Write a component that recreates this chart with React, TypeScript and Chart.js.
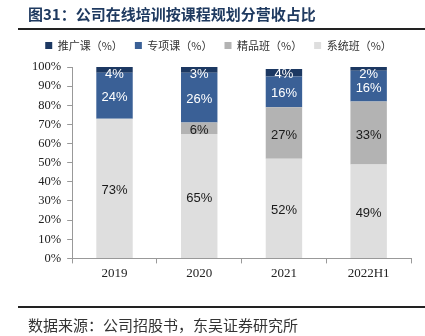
import React, { useEffect, useRef } from "react";
import { Chart, registerables } from "chart.js";

Chart.register(...registerables);

const categories = ["2019", "2020", "2021", "2022H1"];
const seriesNames = ["系统班（%）", "精品班（%）", "专项课（%）", "推广课（%）"];
const xiTongBan = [73, 65, 52, 49];
const jingPinBan = [0, 6, 27, 33];
const zhuanXiangKe = [24, 26, 16, 16];
const tuiGuangKe = [4, 3, 4, 2];
const yTicks = [0, 10, 20, 30, 40, 50, 60, 70, 80, 90, 100];

const titleText = "图31：公司在线培训按课程规划分营收占比";
const sourceText = "数据来源：公司招股书，东吴证券研究所";

const colors = ["#dedede", "#b3b3b3", "#3a6096", "#1c3862"];
const labelColors = ["#1a1a1a", "#1a1a1a", "#ffffff", "#ffffff"];

const legendGapPlugin = {
  id: "legendGap",
  beforeLayout(chart: any) {
    const lg = chart.legend;
    if (lg && !lg._gapPatched) {
      const orig = lg.fit.bind(lg);
      lg.fit = function () {
        orig();
        this.height += 6;
      };
      lg._gapPatched = true;
    }
  },
};

const decorPlugin = {
  id: "decor",
  afterDraw(chart: any) {
    const ctx = chart.ctx;
    ctx.save();
    ctx.fillStyle = "#1f3a60";
    ctx.font = "bold 15px 'Noto Sans CJK SC'";
    ctx.textBaseline = "middle";
    ctx.textAlign = "left";
    ctx.fillText(titleText, 28, 14);
    ctx.strokeStyle = "#222";
    ctx.lineWidth = 2;
    ctx.beginPath();
    ctx.moveTo(18, 29);
    ctx.lineTo(425, 29);
    ctx.stroke();
    ctx.beginPath();
    ctx.moveTo(18, 307);
    ctx.lineTo(425, 307);
    ctx.stroke();
    ctx.fillStyle = "#333";
    ctx.font = "15px 'Noto Sans CJK SC'";
    ctx.fillText(sourceText, 28, 325);
    ctx.restore();
  },
};

const valueLabelPlugin = {
  id: "valueLabels",
  afterDatasetsDraw(chart: any) {
    const ctx = chart.ctx;
    const top = chart.chartArea.top;
    ctx.save();
    ctx.font = "13px 'Liberation Sans', Arial";
    ctx.textAlign = "center";
    ctx.textBaseline = "middle";
    chart.data.datasets.forEach((ds: any, di: number) => {
      const meta = chart.getDatasetMeta(di);
      meta.data.forEach((el: any, i: number) => {
        const v = ds.data[i];
        if (!v) return;
        ctx.fillStyle = labelColors[di];
        let y = (el.y + el.base) / 2 + 2;
        if (y < top + 7) y = top + 7;
        ctx.fillText(v + "%", el.x, y);
      });
    });
    ctx.restore();
  },
};

export default function App() {
  const ref = useRef<HTMLCanvasElement>(null);
  useEffect(() => {
    const seriesData = [xiTongBan, jingPinBan, zhuanXiangKe, tuiGuangKe];
    const chart = new Chart(ref.current!, {
      type: "bar",
      data: {
        labels: categories,
        datasets: seriesData.map((d, i) => ({
          label: seriesNames[i],
          data: d,
          backgroundColor: colors[i],
          borderWidth: 0,
          barPercentage: 0.43,
          categoryPercentage: 1,
        })),
      },
      options: {
        responsive: false,
        animation: false,
        layout: { padding: { left: 26, right: 14, top: 28, bottom: 53 } },
        plugins: {
          tooltip: { enabled: false },
          legend: {
            position: "top",
            reverse: true,
            labels: {
              boxWidth: 7,
              boxHeight: 7,
              padding: 12,
              color: "#333",
              font: { size: 11, family: "'Noto Sans CJK SC'" },
            },
          },
        },
        scales: {
          x: {
            stacked: true,
            grid: { drawOnChartArea: false, color: "#999", tickLength: 5 },
            border: { color: "#999" },
            ticks: {
              color: "#222",
              padding: 2,
              font: { size: 13, family: "'Liberation Serif'" },
            },
          },
          y: {
            stacked: true,
            min: 0,
            max: 100,
            afterBuildTicks: (axis: any) => {
              axis.ticks = yTicks.map((v) => ({ value: v }));
            },
            grid: { drawOnChartArea: false, color: "#999", tickLength: 5 },
            border: { color: "#999" },
            ticks: {
              color: "#222",
              padding: 6,
              font: { size: 12.5, family: "'Liberation Serif'" },
              callback: (v: any) => v + "%",
            },
          },
        },
      },
      plugins: [legendGapPlugin, decorPlugin, valueLabelPlugin],
    });
    return () => chart.destroy();
  }, []);
  return (
    <div style={{ position: "absolute", left: 0, top: 0, width: 425, height: 336, background: "#fff" }}>
      <canvas ref={ref} width={425} height={336} />
    </div>
  );
}
